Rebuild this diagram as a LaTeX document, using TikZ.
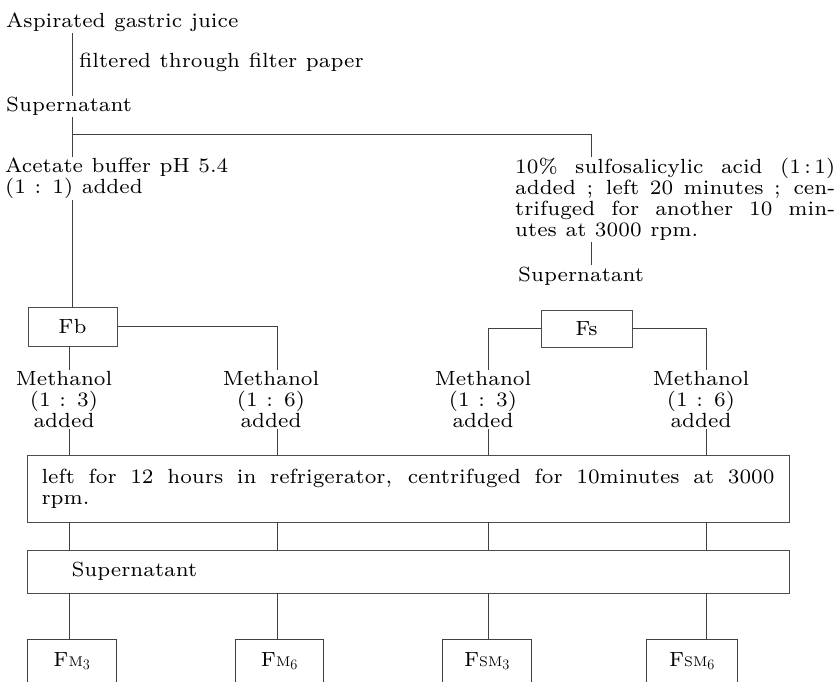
\documentclass[tikz,border=0pt]{standalone}
\usepackage{fontspec}
\setmainfont{lmroman7-regular.otf}
\usetikzlibrary{calc}
\newcommand{\mainfnt}{\fontsize{20.5pt}{21pt}\selectfont\fontdimen2\font=0.42em\relax}
\tikzset{
  every node/.style={font=\mainfnt, inner sep=1pt},
  ln/.style={draw=black!75, line width=0.9pt},
  txt/.style={anchor=base west},
  txtb/.style={anchor=north west, align=left},
  grp/.style={align=center, anchor=north},
  bx/.style={draw=black!70, line width=0.9pt, inner sep=0pt},
  openbx/.style={inner sep=0pt, minimum height=42pt},
}
\newcommand{\smM}{{\fontsize{14pt}{14pt}\selectfont M}}
\newcommand{\smS}{{\fontsize{14pt}{14pt}\selectfont S}}
\newcommand{\jline}[2]{\hbox to #1{\spaceskip=0.3em plus 1fil\relax #2}}
\begin{document}
\begin{tikzpicture}[x=1pt,y=-1pt]
\useasboundingbox (0,0) rectangle (835,682);

% column x positions
\coordinate (xA) at (72,0);
\coordinate (xR) at (591,0);
\coordinate (c1) at (69,0);
\coordinate (c2) at (277,0);
\coordinate (c3) at (488,0);
\coordinate (c4) at (706,0);

% top texts
\node[txt] (asp) at (5,28) {Aspirated gastric juice};
\node[txt] (filt) at (78,68) {filtered through filter paper};
\node[txt] (sup1) at (5,112) {Supernatant};
\node[txtb] (acet) at (4,157) {Acetate buffer pH 5.4\\(1 : 1) added};
\node[txtb] (sulf) at (514,157) {\jline{320pt}{10\% sulfosalicylic acid (1\,:\,1)}\\
  \jline{320pt}{added ; left 20 minutes ; cen-}\\
  \jline{320pt}{trifuged for another 10 min-}\\
  utes at 3000 rpm.};
\node[txt] (sup2) at (517,281) {Supernatant};

% Fb / Fs boxes
\node[bx, minimum width=89pt, minimum height=39pt] (fb) at (72.5,326.5) {Fb};
\node[bx, minimum width=91pt, minimum height=37pt] (fs) at (586.5,328.5) {Fs};

% methanol groups
\node[grp] (m1) at (64,370) {Methanol\\(1 : 3)\\added};
\node[grp] (m2) at (271,370) {Methanol\\(1 : 6)\\added};
\node[grp] (m3) at (483,370) {Methanol\\(1 : 3)\\added};
\node[grp] (m4) at (701,370) {Methanol\\(1 : 6)\\added};

% wide boxes
\node[bx, minimum width=762pt, minimum height=67pt, inner xsep=14.5pt, text width=733pt, align=left] (cent) at (408,488.5)
  {\jline{733pt}{left for 12 hours in refrigerator, centrifuged for 10minutes at 3000}\\rpm.};
\node[bx, minimum width=762pt, minimum height=43pt, inner xsep=14.5pt, text width=733pt, align=left] (supb) at (408,571.5)
  {\hspace*{30pt}Supernatant};

% bottom open boxes
\node[openbx, minimum width=88pt] (fm3) at (72,661) {F\smM$_3$};
\node[openbx, minimum width=87pt] (fm6) at (279.5,661) {F\smM$_6$};
\node[openbx, minimum width=88pt] (fsm3) at (487,661) {F\smS\smM$_3$};
\node[openbx, minimum width=90pt] (fsm6) at (692,661) {F\smS\smM$_6$};
\foreach \b in {fm3,fm6,fsm3,fsm6}{
  \draw[ln] (\b.south west) |- (\b.north) -| (\b.south east);
}

% connectors
\draw[ln] (xA |- asp.south) -- (xA |- sup1.north);
\draw[ln] (xA |- sup1.south) -- (xA |- acet.north);
\draw[ln] (xA |- 0,134) -| (xR |- sulf.north);
\draw[ln] (xR |- sulf.south) -- (xR |- sup2.north);
\draw[ln] (xA |- acet.south) -- (xA |- fb.north);
\draw[ln] (c1 |- fb.south) -- (c1 |- m1.north);
\draw[ln] (fb.east) -| (c2 |- m2.north);
\draw[ln] (fs.west) -| (c3 |- m3.north);
\draw[ln] (fs.east) -| (c4 |- m4.north);
\foreach \i/\c in {m1/c1,m2/c2,m3/c3,m4/c4}{
  \draw[ln] (\c |- \i.south) -- (\c |- cent.north);
}
\foreach \i/\c in {fm3/c1,fm6/c2,fsm3/c3,fsm6/c4}{
  \draw[ln] (\c |- cent.south) -- (\c |- supb.north);
  \draw[ln] (\c |- supb.south) -- (\c |- \i.north);
}
\end{tikzpicture}
\end{document}
